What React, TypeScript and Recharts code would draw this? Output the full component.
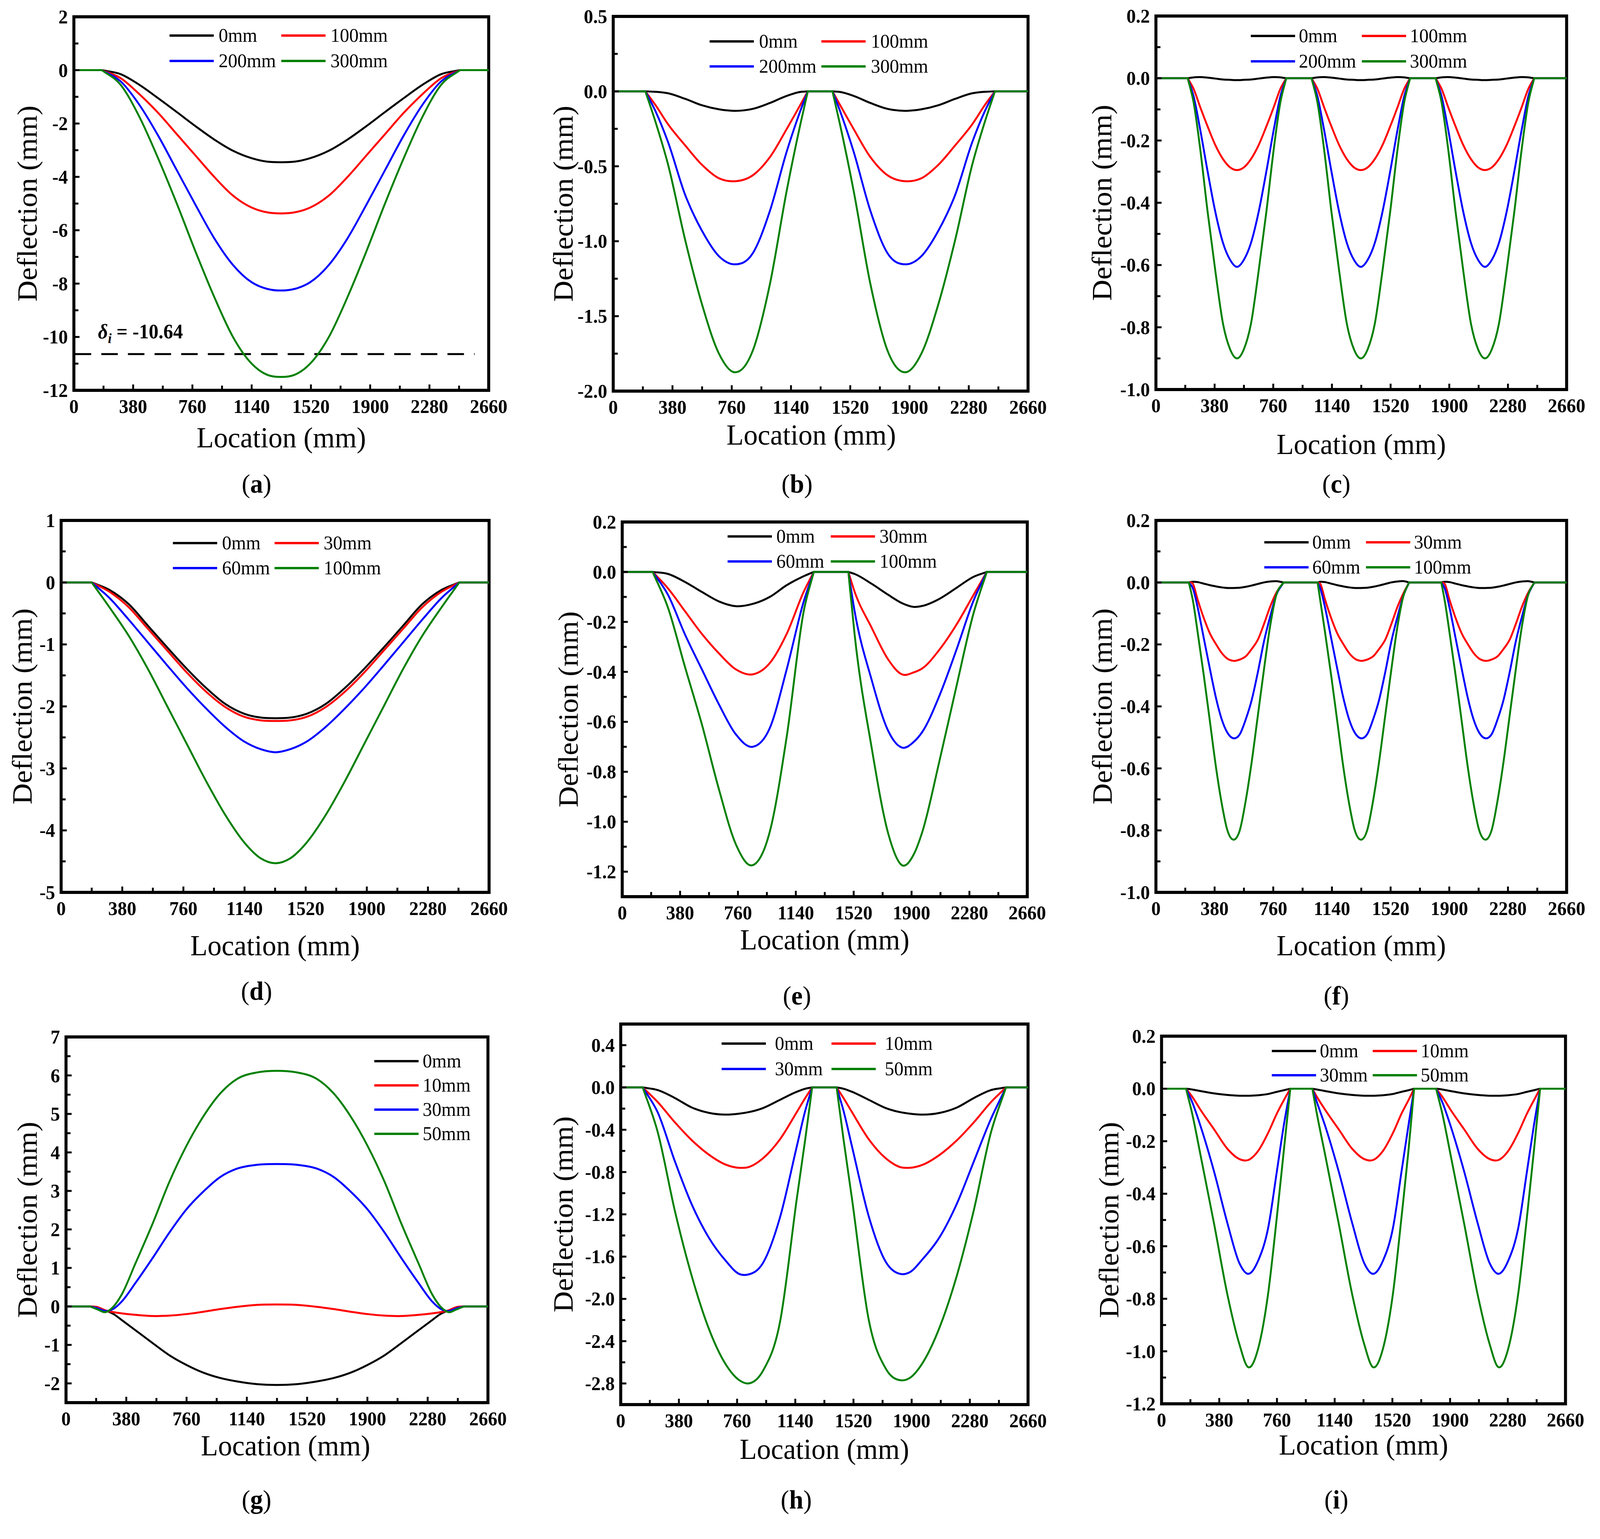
import React from "react"
import { LineChart, Line, XAxis, YAxis, ReferenceArea, ReferenceLine, Legend } from "recharts"

const FONT = '"Liberation Serif", "Times New Roman", Times, serif'
const LINE_COLORS = ["#000000", "#ff0000", "#0000ff", "#008000"]
const PAGE_W = 4266
const PAGE_H = 3939

// x axis ticks (mm), same on every panel
const xMajor = [0, 380, 760, 1140, 1520, 1900, 2280, 2660]
const xMinor = [190, 570, 950, 1330, 1710, 2090, 2470]

// ---------- (a) ----------
const legendA = ["0mm", "100mm", "200mm", "300mm"]
const locA = [0, 180, 300, 420, 540, 660, 780, 900, 1020, 1140, 1240, 1328, 1415, 1515, 1635, 1755, 1875, 1995, 2115, 2235, 2355, 2475, 2660]
const a0 = [0, 0, -0.15, -0.55, -1.05, -1.57, -2.1, -2.6, -3.02, -3.3, -3.43, -3.45, -3.43, -3.3, -3.02, -2.6, -2.1, -1.57, -1.05, -0.55, -0.15, 0, 0]
const a100 = [0, 0, -0.3, -0.9, -1.6, -2.4, -3.2, -4.0, -4.7, -5.15, -5.33, -5.37, -5.33, -5.15, -4.7, -4.0, -3.2, -2.4, -1.6, -0.9, -0.3, 0, 0]
const a200 = [0, 0, -0.42, -1.3, -2.45, -3.75, -5.05, -6.3, -7.3, -7.95, -8.2, -8.26, -8.2, -7.95, -7.3, -6.3, -5.05, -3.75, -2.45, -1.3, -0.42, 0, 0]
const a300 = [0, 0, -0.55, -1.75, -3.3, -5.0, -6.8, -8.5, -10.0, -11.0, -11.42, -11.5, -11.42, -11.0, -10.0, -8.5, -6.8, -5.0, -3.3, -1.75, -0.55, 0, 0]
const yMajorA = [-12, -10, -8, -6, -4, -2, 0, 2]
const yMinorA = [-11, -9, -7, -5, -3, -1, 1]
const deltaI = -10.64

// ---------- (b) ----------
const legendB = ["0mm", "100mm", "200mm", "300mm"]
const locB = [0, 206, 270, 352, 461, 569, 678, 776, 895, 1004, 1113, 1200, 1248, 1406, 1454, 1541, 1650, 1759, 1878, 1976, 2085, 2193, 2302, 2384, 2448, 2660]
const b0 = [0, 0, -0.003, -0.013, -0.05, -0.093, -0.12, -0.13, -0.117, -0.078, -0.03, -0.004, 0, 0, -0.004, -0.03, -0.078, -0.117, -0.13, -0.12, -0.093, -0.05, -0.013, -0.003, 0, 0]
const b100 = [0, 0, -0.09, -0.22, -0.36, -0.49, -0.58, -0.6, -0.56, -0.44, -0.25, -0.09, 0, 0, -0.09, -0.25, -0.44, -0.56, -0.6, -0.58, -0.49, -0.36, -0.22, -0.09, 0, 0]
const b200 = [0, 0, -0.13, -0.34, -0.69, -0.93, -1.1, -1.154, -1.08, -0.8, -0.4, -0.13, 0, 0, -0.13, -0.4, -0.8, -1.08, -1.154, -1.1, -0.93, -0.69, -0.34, -0.13, 0, 0]
const b300 = [0, 0, -0.2, -0.49, -0.99, -1.42, -1.75, -1.874, -1.73, -1.29, -0.66, -0.22, 0, 0, -0.22, -0.66, -1.29, -1.73, -1.874, -1.75, -1.42, -0.99, -0.49, -0.2, 0, 0]
const yMajorB = [-2, -1.5, -1, -0.5, 0, 0.5]
const yMinorB = [-1.75, -1.25, -0.75, -0.25, 0.25]

// ---------- (c) ----------
const legendC = ["0mm", "100mm", "200mm", "300mm"]
const locC = [0, 206, 245, 285, 335, 385, 435, 480, 525, 570, 615, 665, 715, 765, 805, 844,
  1008, 1047, 1087, 1137, 1187, 1237, 1282, 1327, 1372, 1417, 1467, 1517, 1567, 1607, 1646,
  1812, 1851, 1891, 1941, 1991, 2041, 2086, 2131, 2176, 2221, 2271, 2321, 2371, 2411, 2450, 2660]
const c0 = [0, 0, 0.003, 0.004, 0.002, -0.001, -0.004, -0.005, -0.006, -0.005, -0.004, -0.001, 0.002, 0.004, 0.003, 0,
  0, 0.003, 0.004, 0.002, -0.001, -0.004, -0.005, -0.006, -0.005, -0.004, -0.001, 0.002, 0.004, 0.003, 0,
  0, 0.003, 0.004, 0.002, -0.001, -0.004, -0.005, -0.006, -0.005, -0.004, -0.001, 0.002, 0.004, 0.003, 0, 0]
const c100 = [0, 0, -0.035, -0.09, -0.155, -0.215, -0.26, -0.286, -0.295, -0.286, -0.26, -0.215, -0.155, -0.09, -0.035, 0,
  0, -0.035, -0.09, -0.155, -0.215, -0.26, -0.286, -0.295, -0.286, -0.26, -0.215, -0.155, -0.09, -0.035, 0,
  0, -0.035, -0.09, -0.155, -0.215, -0.26, -0.286, -0.295, -0.286, -0.26, -0.215, -0.155, -0.09, -0.035, 0, 0]
const c200 = [0, 0, -0.06, -0.16, -0.3, -0.43, -0.53, -0.583, -0.606, -0.583, -0.53, -0.43, -0.3, -0.16, -0.06, 0,
  0, -0.06, -0.16, -0.3, -0.43, -0.53, -0.583, -0.606, -0.583, -0.53, -0.43, -0.3, -0.16, -0.06, 0,
  0, -0.06, -0.16, -0.3, -0.43, -0.53, -0.583, -0.606, -0.583, -0.53, -0.43, -0.3, -0.16, -0.06, 0, 0]
const c300 = [0, 0, -0.08, -0.22, -0.43, -0.62, -0.79, -0.87, -0.9, -0.87, -0.79, -0.62, -0.43, -0.22, -0.08, 0,
  0, -0.08, -0.22, -0.43, -0.62, -0.79, -0.87, -0.9, -0.87, -0.79, -0.62, -0.43, -0.22, -0.08, 0,
  0, -0.08, -0.22, -0.43, -0.62, -0.79, -0.87, -0.9, -0.87, -0.79, -0.62, -0.43, -0.22, -0.08, 0, 0]
const yMajorC = [-1, -0.8, -0.6, -0.4, -0.2, 0, 0.2]
const yMinorC = [-0.9, -0.7, -0.5, -0.3, -0.1, 0.1]

// ---------- (d) ----------
const legendD = ["0mm", "30mm", "60mm", "100mm"]
const locD = [0, 190, 300, 420, 540, 660, 780, 900, 1020, 1140, 1240, 1332, 1425, 1525, 1645, 1765, 1885, 2005, 2125, 2245, 2365, 2475, 2660]
const d0 = [0, 0, -0.12, -0.35, -0.7, -1.05, -1.39, -1.7, -1.96, -2.12, -2.18, -2.19, -2.18, -2.12, -1.96, -1.7, -1.39, -1.05, -0.7, -0.35, -0.12, 0, 0]
const d30 = [0, 0, -0.15, -0.4, -0.75, -1.1, -1.45, -1.76, -2.01, -2.17, -2.225, -2.235, -2.225, -2.17, -2.01, -1.76, -1.45, -1.1, -0.75, -0.4, -0.15, 0, 0]
const d60 = [0, 0, -0.25, -0.6, -0.97, -1.34, -1.7, -2.03, -2.33, -2.57, -2.69, -2.74, -2.69, -2.57, -2.33, -2.03, -1.7, -1.34, -0.97, -0.6, -0.25, 0, 0]
const d100 = [0, 0, -0.4, -0.86, -1.4, -2.0, -2.6, -3.2, -3.75, -4.2, -4.45, -4.53, -4.45, -4.2, -3.75, -3.2, -2.6, -2.0, -1.4, -0.86, -0.4, 0, 0]
const yMajorD = [-5, -4, -3, -2, -1, 0, 1]
const yMinorD = [-4.5, -3.5, -2.5, -1.5, -0.5, 0.5]

// ---------- (e) ----------
const legendE = ["0mm", "30mm", "60mm", "100mm"]
const locE = [0, 200, 301, 412, 523, 635, 746, 857, 969, 1080, 1192, 1258, 1485, 1526, 1637, 1748, 1837, 1915, 1971, 2082, 2194, 2305, 2394, 2660]
const e0 = [0, 0, -0.008, -0.04, -0.08, -0.118, -0.137, -0.128, -0.1, -0.053, -0.017, 0, 0, -0.008, -0.047, -0.092, -0.125, -0.14, -0.136, -0.108, -0.064, -0.02, 0, 0]
const e30 = [0, 0, -0.066, -0.157, -0.248, -0.326, -0.39, -0.41, -0.365, -0.248, -0.079, 0, 0, -0.079, -0.222, -0.352, -0.41, -0.402, -0.386, -0.312, -0.212, -0.094, 0, 0]
const e60 = [0, 0, -0.092, -0.25, -0.39, -0.53, -0.65, -0.7, -0.625, -0.39, -0.118, 0, 0, -0.157, -0.43, -0.638, -0.703, -0.68, -0.64, -0.497, -0.313, -0.118, 0, 0]
const e100 = [0, 0, -0.144, -0.38, -0.61, -0.87, -1.09, -1.174, -1.04, -0.66, -0.157, 0, 0, -0.25, -0.7, -1.05, -1.174, -1.13, -1.04, -0.76, -0.46, -0.17, 0, 0]
const yMajorE = [-1.2, -1, -0.8, -0.6, -0.4, -0.2, 0, 0.2]
const yMinorE = [-1.1, -0.9, -0.7, -0.5, -0.3, -0.1, 0.1]

// ---------- (f) ----------
const legendF = ["0mm", "30mm", "60mm", "100mm"]
const locF = [0, 213, 240, 270, 310, 350, 390, 425, 463, 503, 543, 583, 620, 660, 700, 740, 780, 827,
  1047, 1065, 1095, 1135, 1175, 1215, 1250, 1288, 1328, 1368, 1408, 1445, 1485, 1525, 1565, 1605, 1640,
  1848, 1871, 1901, 1941, 1981, 2021, 2056, 2094, 2134, 2174, 2214, 2251, 2291, 2331, 2371, 2411, 2452, 2660]
const f0 = [0, 0, 0.002, 0.001, -0.004, -0.009, -0.013, -0.016, -0.018, -0.018, -0.017, -0.014, -0.01, -0.005, 0, 0.003, 0.004, 0,
  0, 0.002, 0.001, -0.004, -0.009, -0.013, -0.016, -0.018, -0.018, -0.017, -0.014, -0.01, -0.005, 0, 0.003, 0.004, 0,
  0, 0.002, 0.001, -0.004, -0.009, -0.013, -0.016, -0.018, -0.018, -0.017, -0.014, -0.01, -0.005, 0, 0.003, 0.004, 0, 0]
const f30 = [0, 0, -0.005, -0.055, -0.115, -0.165, -0.2, -0.227, -0.246, -0.253, -0.249, -0.238, -0.215, -0.185, -0.134, -0.078, -0.033, 0,
  0, -0.005, -0.055, -0.115, -0.165, -0.2, -0.227, -0.246, -0.253, -0.249, -0.238, -0.215, -0.185, -0.134, -0.078, -0.033, 0,
  0, -0.005, -0.055, -0.115, -0.165, -0.2, -0.227, -0.246, -0.253, -0.249, -0.238, -0.215, -0.185, -0.134, -0.078, -0.033, 0, 0]
const f60 = [0, 0, -0.02, -0.08, -0.18, -0.28, -0.375, -0.44, -0.485, -0.503, -0.49, -0.44, -0.38, -0.29, -0.19, -0.11, -0.04, 0,
  0, -0.02, -0.08, -0.18, -0.28, -0.375, -0.44, -0.485, -0.503, -0.49, -0.44, -0.38, -0.29, -0.19, -0.11, -0.04, 0,
  0, -0.02, -0.08, -0.18, -0.28, -0.375, -0.44, -0.485, -0.503, -0.49, -0.44, -0.38, -0.29, -0.19, -0.11, -0.04, 0, 0]
const f100 = [0, 0, -0.06, -0.16, -0.3, -0.45, -0.6, -0.71, -0.8, -0.83, -0.8, -0.7, -0.58, -0.43, -0.28, -0.14, -0.04, 0,
  0, -0.06, -0.16, -0.3, -0.45, -0.6, -0.71, -0.8, -0.83, -0.8, -0.7, -0.58, -0.43, -0.28, -0.14, -0.04, 0,
  0, -0.06, -0.16, -0.3, -0.45, -0.6, -0.71, -0.8, -0.83, -0.8, -0.7, -0.58, -0.43, -0.28, -0.14, -0.04, 0, 0]
const yMajorF = [-1, -0.8, -0.6, -0.4, -0.2, 0, 0.2]
const yMinorF = [-0.9, -0.7, -0.5, -0.3, -0.1, 0.1]

// ---------- (g) ----------
const legendG = ["0mm", "10mm", "30mm", "50mm"]
const locG = [0, 150, 200, 246, 300, 350, 438, 545, 652, 759, 865, 972, 1079, 1207, 1330, 1453, 1581, 1688, 1795, 1901, 2008, 2115, 2222, 2310, 2360, 2414, 2460, 2510, 2660]
const g0 = [0, 0, -0.03, -0.1, -0.2, -0.35, -0.62, -0.95, -1.27, -1.52, -1.72, -1.86, -1.95, -2.02, -2.04, -2.02, -1.95, -1.86, -1.72, -1.52, -1.27, -0.95, -0.62, -0.35, -0.2, -0.1, -0.03, 0, 0]
const g10 = [0, 0, -0.02, -0.1, -0.15, -0.18, -0.22, -0.25, -0.24, -0.2, -0.14, -0.07, -0.01, 0.04, 0.05, 0.04, -0.01, -0.07, -0.14, -0.2, -0.24, -0.25, -0.22, -0.18, -0.15, -0.1, -0.02, 0, 0]
const g30 = [0, 0, -0.05, -0.12, -0.06, 0.12, 0.61, 1.25, 1.92, 2.52, 2.98, 3.36, 3.58, 3.68, 3.7, 3.68, 3.58, 3.36, 2.98, 2.52, 1.92, 1.25, 0.61, 0.12, -0.06, -0.12, -0.05, 0, 0]
const g50 = [0, 0, -0.08, -0.15, 0.0, 0.3, 1.12, 2.14, 3.24, 4.17, 4.93, 5.53, 5.91, 6.08, 6.12, 6.08, 5.91, 5.53, 4.93, 4.17, 3.24, 2.14, 1.12, 0.3, 0.0, -0.15, -0.08, 0, 0]
const yMajorG = [-2, -1, 0, 1, 2, 3, 4, 5, 6, 7]
const yMinorG = [-1.5, -0.5, 0.5, 1.5, 2.5, 3.5, 4.5, 5.5, 6.5]

// ---------- (h) ----------
const legendH = ["0mm", "10mm", "30mm", "50mm"]
const locH = [0, 144, 243, 354, 465, 575, 686, 775, 830, 929, 1040, 1151, 1205, 1250, 1410, 1455, 1509, 1620, 1731, 1830, 1885, 1974, 2085, 2195, 2306, 2417, 2516, 2660]
const h0 = [0, 0, -0.025, -0.1, -0.19, -0.24, -0.257, -0.247, -0.235, -0.195, -0.117, -0.04, -0.012, 0, 0, -0.012, -0.04, -0.117, -0.195, -0.235, -0.247, -0.257, -0.24, -0.19, -0.1, -0.025, 0, 0]
const h10 = [0, 0, -0.14, -0.33, -0.5, -0.635, -0.73, -0.76, -0.755, -0.67, -0.49, -0.23, -0.1, 0, 0, -0.1, -0.23, -0.49, -0.67, -0.755, -0.76, -0.73, -0.635, -0.5, -0.33, -0.14, 0, 0]
const h30 = [0, 0, -0.24, -0.7, -1.11, -1.42, -1.64, -1.765, -1.77, -1.66, -1.23, -0.55, -0.22, 0, 0, -0.22, -0.55, -1.22, -1.65, -1.765, -1.75, -1.62, -1.41, -1.1, -0.7, -0.3, 0, 0]
const h50 = [0, 0, -0.43, -1.17, -1.79, -2.28, -2.62, -2.77, -2.8, -2.68, -2.22, -1.04, -0.49, 0, 0, -0.49, -1.04, -2.2, -2.66, -2.77, -2.75, -2.6, -2.26, -1.78, -1.16, -0.43, 0, 0]
const yMajorH = [-2.8, -2.4, -2, -1.6, -1.2, -0.8, -0.4, 0, 0.4]
const yMinorH = [-2.6, -2.2, -1.8, -1.4, -1, -0.6, -0.2, 0.2]

// ---------- (i) ----------
const legendI = ["0mm", "10mm", "30mm", "50mm"]
const locI = [0, 161, 201, 257, 346, 435, 513, 569, 636, 703, 759, 804, 848,
  993, 1022, 1078, 1167, 1257, 1335, 1391, 1458, 1525, 1580, 1625, 1663,
  1808, 1848, 1904, 1993, 2083, 2161, 2217, 2283, 2350, 2406, 2451, 2493, 2660]
const i0 = [0, 0, -0.003, -0.009, -0.018, -0.024, -0.027, -0.027, -0.025, -0.02, -0.012, -0.006, 0,
  0, -0.003, -0.009, -0.018, -0.024, -0.027, -0.027, -0.025, -0.02, -0.012, -0.006, 0,
  0, -0.003, -0.009, -0.018, -0.024, -0.027, -0.027, -0.025, -0.02, -0.012, -0.006, 0, 0]
const i10 = [0, 0, -0.03, -0.081, -0.155, -0.23, -0.268, -0.272, -0.237, -0.167, -0.095, -0.045, 0,
  0, -0.03, -0.081, -0.155, -0.23, -0.268, -0.272, -0.237, -0.167, -0.095, -0.045, 0,
  0, -0.03, -0.081, -0.155, -0.23, -0.268, -0.272, -0.237, -0.167, -0.095, -0.045, 0, 0]
const i30 = [0, 0, -0.05, -0.143, -0.316, -0.515, -0.665, -0.705, -0.655, -0.527, -0.316, -0.143, 0,
  0, -0.05, -0.143, -0.316, -0.515, -0.665, -0.705, -0.655, -0.527, -0.316, -0.143, 0,
  0, -0.05, -0.143, -0.316, -0.515, -0.665, -0.705, -0.655, -0.527, -0.316, -0.143, 0, 0]
const i50 = [0, 0, -0.093, -0.254, -0.515, -0.788, -0.974, -1.06, -0.99, -0.775, -0.49, -0.242, 0,
  0, -0.093, -0.254, -0.515, -0.788, -0.974, -1.06, -0.99, -0.775, -0.49, -0.242, 0,
  0, -0.093, -0.254, -0.515, -0.788, -0.974, -1.06, -0.99, -0.775, -0.49, -0.242, 0, 0]
const yMajorI = [-1.2, -1, -0.8, -0.6, -0.4, -0.2, 0, 0.2]
const yMinorI = [-1.1, -0.9, -0.7, -0.5, -0.3, -0.1, 0.1]

// room around each plot box
const Y_W = 200
const X_H = 200
const M_T = 60
const M_R = 80

const panels: any[] = [
  { id: "a", loc: locA, series: [a0, a100, a200, a300], names: legendA, yDomain: [-12, 2], yMajor: yMajorA, yMinor: yMinorA, dec: 0,
    box: { left: 197, top: 43, right: 1303, bottom: 999 }, yGap: 125, xGap: 121, xDx: 0,
    legend: { dx: 255, dy: 48, cols: 2, colGap: 298, rowGap: 65, textGap: 131 }, cap: [684, 1238], dashed: true },
  { id: "b", loc: locB, series: [b0, b100, b200, b300], names: legendB, yDomain: [-2, 0.5], yMajor: yMajorB, yMinor: yMinorB, dec: 1,
    box: { left: 1635, top: 42, right: 2741, bottom: 1001 }, yGap: 134, xGap: 112, xDx: -25,
    legend: { dx: 257, dy: 64, cols: 2, colGap: 298, rowGap: 64, textGap: 132 }, cap: [2125, 1238] },
  { id: "c", loc: locC, series: [c0, c100, c200, c300], names: legendC, yDomain: [-1, 0.2], yMajor: yMajorC, yMinor: yMinorC, dec: 1,
    box: { left: 3082, top: 41, right: 4177, bottom: 997 }, yGap: 144, xGap: 139, xDx: 0,
    legend: { dx: 253, dy: 51, cols: 2, colGap: 296, rowGap: 65, textGap: 128 }, cap: [3563, 1238] },
  { id: "d", loc: locD, series: [d0, d30, d60, d100], names: legendD, yDomain: [-5, 1], yMajor: yMajorD, yMinor: yMinorD, dec: 0,
    box: { left: 163, top: 1332, right: 1304, bottom: 2284 }, yGap: 104, xGap: 136, xDx: 0,
    legend: { dx: 298, dy: 58, cols: 2, colGap: 271, rowGap: 64, textGap: 131 }, cap: [684, 2536] },
  { id: "e", loc: locE, series: [e0, e30, e60, e100], names: legendE, yDomain: [-1.3, 0.2], yMajor: yMajorE, yMinor: yMinorE, dec: 1,
    box: { left: 1659, top: 1336, right: 2739, bottom: 2295 }, yGap: 144, xGap: 110, xDx: 0,
    legend: { dx: 281, dy: 37, cols: 2, colGap: 275, rowGap: 64, textGap: 130 }, cap: [2125, 2548] },
  { id: "f", loc: locF, series: [f0, f30, f60, f100], names: legendF, yDomain: [-1, 0.2], yMajor: yMajorF, yMinor: yMinorF, dec: 1,
    box: { left: 3082, top: 1332, right: 4177, bottom: 2284 }, yGap: 143, xGap: 136, xDx: 0,
    legend: { dx: 289, dy: 56, cols: 2, colGap: 271, rowGap: 64, textGap: 128 }, cap: [3563, 2548] },
  { id: "g", loc: locG, series: [g0, g10, g30, g50], names: legendG, yDomain: [-2.5, 7], yMajor: yMajorG, yMinor: yMinorG, dec: 0,
    box: { left: 176, top: 2654, right: 1301, bottom: 3590 }, yGap: 104, xGap: 110, xDx: 23,
    legend: { dx: 822, dy: 62, cols: 1, colGap: 0, rowGap: 62, textGap: 129 }, cap: [684, 3838] },
  { id: "h", loc: locH, series: [h0, h10, h30, h50], names: legendH, yDomain: [-3, 0.6], yMajor: yMajorH, yMinor: yMinorH, dec: 1,
    box: { left: 1655, top: 2621, right: 2741, bottom: 3595 }, yGap: 154, xGap: 114, xDx: 0,
    legend: { dx: 269, dy: 50, cols: 2, colGap: 293, rowGap: 65, textGap: 142 }, cap: [2123, 3838] },
  { id: "i", loc: locI, series: [i0, i10, i30, i50], names: legendI, yDomain: [-1.2, 0.2], yMajor: yMajorI, yMinor: yMinorI, dec: 1,
    box: { left: 3097, top: 2652, right: 4174, bottom: 3593 }, yGap: 141, xGap: 105, xDx: 0,
    legend: { dx: 294, dy: 38, cols: 2, colGap: 269, rowGap: 62, textGap: 128 }, cap: [3563, 3838] },
]

// smooth cubic through the points; flat stretches stay straight and
// the curve meets a flat support with a corner, as in the original plots
const smoothCurve: any = (context: any) => {
  let px: number[] = []
  let py: number[] = []
  return {
    areaStart() {},
    areaEnd() {},
    lineStart() {
      px = []
      py = []
    },
    point(x: number, y: number) {
      px.push(+x)
      py.push(+y)
    },
    lineEnd() {
      const n = px.length
      if (!n) return
      context.moveTo(px[0], py[0])
      const flat = (i: number) => Math.abs(py[i + 1] - py[i]) < 1e-6
      const sec = (i: number) => (py[i + 1] - py[i]) / (px[i + 1] - px[i] || 1)
      const tan: number[] = []
      for (let i = 0; i < n; i++) {
        if (i === 0) tan.push(n > 1 ? sec(0) : 0)
        else if (i === n - 1) tan.push(sec(n - 2))
        else {
          const hl = px[i] - px[i - 1]
          const hr = px[i + 1] - px[i]
          tan.push((hr * sec(i - 1) + hl * sec(i)) / (hl + hr || 1))
        }
      }
      for (let i = 0; i < n - 1; i++) {
        if (flat(i)) {
          context.lineTo(px[i + 1], py[i + 1])
          continue
        }
        const h = px[i + 1] - px[i]
        const m0 = i > 0 && flat(i - 1) ? sec(i) : tan[i]
        const m1 = i + 2 < n && flat(i + 1) ? sec(i) : tan[i + 1]
        context.bezierCurveTo(
          px[i] + h / 3, py[i] + (m0 * h) / 3,
          px[i + 1] - h / 3, py[i + 1] - (m1 * h) / 3,
          px[i + 1], py[i + 1]
        )
      }
    },
  }
}

const isMajor = (list: number[], v: number) => list.some((m) => Math.abs(m - v) < 1e-9)

function XTick(props: any) {
  const { x, y, payload, majors } = props
  const major = isMajor(majors, payload.value)
  return (
    <g>
      <line x1={x} x2={x} y1={y} y2={y - (major ? 15 : 12)} stroke="#000" strokeWidth={5} />
      {major && (
        <text x={x} y={y + 58} textAnchor="middle" fontFamily={FONT} fontSize={50} fontWeight="bold" fill="#000">
          {payload.value}
        </text>
      )}
    </g>
  )
}

function YTick(props: any) {
  const { x, y, payload, majors, decimals } = props
  const v = payload.value as number
  const major = isMajor(majors, v)
  return (
    <g>
      <line x1={x} x2={x + (major ? 15 : 12)} y1={y} y2={y} stroke="#000" strokeWidth={5} />
      {major && (
        <text x={x - 16} y={y + 17} textAnchor="end" fontFamily={FONT} fontSize={50} fontWeight="bold" fill="#000">
          {v.toFixed(decimals)}
        </text>
      )}
    </g>
  )
}

function XTitle(props: any) {
  const { viewBox, gap, dx } = props
  const cx = viewBox.x + viewBox.width / 2 + dx
  const cy = viewBox.y + gap
  return (
    <text x={cx} y={cy} textAnchor="middle" dominantBaseline="central" fontFamily={FONT} fontSize={75} fill="#000">
      Location (mm)
    </text>
  )
}

function YTitle(props: any) {
  const { viewBox, gap } = props
  const cx = viewBox.x + viewBox.width - gap
  const cy = viewBox.y + viewBox.height / 2
  return (
    <text x={cx} y={cy} transform={`rotate(-90 ${cx} ${cy})`} textAnchor="middle" dominantBaseline="central"
      fontFamily={FONT} fontSize={75} fill="#000">
      Deflection (mm)
    </text>
  )
}

function DeltaLabel(props: any) {
  const { viewBox } = props
  return (
    <text x={viewBox.x + 62} y={viewBox.y - 40} fontFamily={FONT} fontSize={52} fontWeight="bold" fill="#000">
      <tspan fontStyle="italic">δ</tspan>
      <tspan fontStyle="italic" fontSize={36} dy={12}>i</tspan>
      <tspan dy={-12}> = {deltaI}</tspan>
    </text>
  )
}

function LegendBox(props: any) {
  const { payload, cols, colGap, rowGap, textGap } = props
  return (
    <div style={{ position: "relative" }}>
      {(payload || []).map((item: any, i: number) => (
        <div key={i} style={{ position: "absolute", left: (i % cols) * colGap, top: Math.floor(i / cols) * rowGap, height: 0 }}>
          <div style={{ position: "absolute", left: 0, top: -3, width: 118, height: 6, background: item.color }} />
          <span style={{ position: "absolute", left: textGap, top: -29, fontFamily: FONT, fontSize: 50, lineHeight: "56px", whiteSpace: "nowrap", color: "#000" }}>
            {item.value}
          </span>
        </div>
      ))}
    </div>
  )
}

function Panel({ p }: { p: any }) {
  const plotW = p.box.right - p.box.left
  const plotH = p.box.bottom - p.box.top
  const data = p.loc.map((x: number, i: number) => ({
    x,
    s0: p.series[0][i],
    s1: p.series[1][i],
    s2: p.series[2][i],
    s3: p.series[3][i],
  }))
  const xTicks = [...xMajor, ...xMinor].sort((u, v) => u - v)
  const yTicks = [...p.yMajor, ...p.yMinor].sort((u: number, v: number) => u - v)
  return (
    <div style={{ position: "absolute", left: p.box.left - Y_W, top: p.box.top - M_T }}>
      <LineChart
        width={Y_W + plotW + M_R}
        height={M_T + plotH + X_H}
        data={data}
        margin={{ top: M_T, right: M_R, bottom: 0, left: 0 }}
      >
        <XAxis
          dataKey="x"
          type="number"
          domain={[0, 2660]}
          ticks={xTicks}
          interval={0}
          height={X_H}
          axisLine={false}
          tickLine={false}
          tickSize={0}
          tickMargin={0}
          tick={<XTick majors={xMajor} />}
          label={<XTitle gap={p.xGap} dx={p.xDx} />}
        />
        <YAxis
          type="number"
          domain={p.yDomain}
          ticks={yTicks}
          interval={0}
          width={Y_W}
          axisLine={false}
          tickLine={false}
          tickSize={0}
          tickMargin={0}
          tick={<YTick majors={p.yMajor} decimals={p.dec} />}
          label={<YTitle gap={p.yGap} />}
        />
        <ReferenceArea
          x1={0}
          x2={2660}
          y1={p.yDomain[0]}
          y2={p.yDomain[1]}
          fill="none"
          fillOpacity={0}
          stroke="#000"
          strokeWidth={8}
          ifOverflow="visible"
        />
        {p.dashed && (
          <ReferenceLine
            segment={[{ x: 5, y: deltaI }, { x: 2570, y: deltaI }]}
            stroke="#000"
            strokeWidth={5}
            strokeDasharray="44 27"
            label={<DeltaLabel />}
          />
        )}
        <Legend
          layout="horizontal"
          verticalAlign="middle"
          align="center"
          itemSorter="dataKey"
          wrapperStyle={{ left: Y_W + p.legend.dx, top: M_T + p.legend.dy, width: 700, height: 10 }}
          content={<LegendBox cols={p.legend.cols} colGap={p.legend.colGap} rowGap={p.legend.rowGap} textGap={p.legend.textGap} />}
        />
        {[0, 1, 2, 3].map((k) => (
          <Line
            key={k}
            type={smoothCurve}
            dataKey={`s${k}`}
            name={p.names[k]}
            stroke={LINE_COLORS[k]}
            strokeWidth={5}
            dot={false}
            activeDot={false}
            isAnimationActive={false}
          />
        ))}
      </LineChart>
    </div>
  )
}

export default function App() {
  // the figure is laid out on a 4266 x 3939 sheet; map it onto the visible window
  const sx = typeof window !== "undefined" ? Math.min(1, window.innerWidth / PAGE_W) : 1
  const sy = typeof window !== "undefined" ? Math.min(1, window.innerHeight / PAGE_H) : 1
  return (
    <div
      style={{
        position: "absolute",
        left: 0,
        top: 0,
        width: PAGE_W,
        height: PAGE_H,
        background: "#fff",
        overflow: "hidden",
        transform: `scale(${sx}, ${sy})`,
        transformOrigin: "0 0",
      }}
    >
      {panels.map((p) => (
        <Panel key={p.id} p={p} />
      ))}
      {panels.map((p) => (
        <div
          key={`cap-${p.id}`}
          style={{
            position: "absolute",
            left: p.cap[0],
            top: p.cap[1],
            transform: "translate(-50%, -50%)",
            fontFamily: FONT,
            fontSize: 68,
            lineHeight: 1,
            color: "#000",
            whiteSpace: "nowrap",
          }}
        >
          (<b>{p.id}</b>)
        </div>
      ))}
    </div>
  )
}
